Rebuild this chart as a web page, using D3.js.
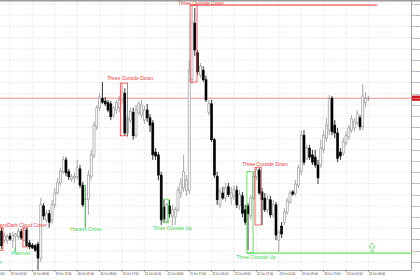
<!DOCTYPE html>
<html><head><meta charset="utf-8">
<script src="https://cdn.jsdelivr.net/npm/d3@7"></script>
<style>html,body{margin:0;padding:0;background:#fff;overflow:hidden}</style>
</head><body><svg id="c" width="420" height="280"></svg>
<script>
// ---- data (hourly candles) ----
const opens  = [1.0865,1.0849,1.0848,1.0856,1.0849,1.0856,1.0855,1.0864,1.0849,1.0867,1.0844,1.0840,1.0839,1.0842,1.0817,1.0910,1.0885,1.0896,1.0885,1.0912,1.0933,1.0951,1.0971,1.0992,1.0971,1.0958,1.0960,1.0962,1.0976,1.0947,1.0921,1.0922,1.0963,1.0999,1.1051,1.1085,1.1102,1.1097,1.1094,1.1092,1.1072,1.1081,1.1085,1.1099,1.1111,1.1040,1.1063,1.1077,1.1036,1.1077,1.1072,1.1063,1.1081,1.1067,1.1058,1.1006,1.1001,1.0965,1.0908,1.0883,1.0910,1.0892,1.0890,1.0903,1.0933,1.0942,1.0938,1.0938,1.1135,1.1236,1.1183,1.1143,1.1152,1.1135,1.1077,1.1092,1.1028,1.0963,1.0912,1.0933,1.0924,1.0944,1.0924,1.0928,1.0938,1.0910,1.0928,1.0903,1.0910,1.0892,1.0924,1.0962,1.0974,1.0935,1.0924,1.0903,1.0921,1.0894,1.0912,1.0849,1.0874,1.0881,1.0899,1.0917,1.0935,1.0933,1.0947,1.0971,1.1036,1.0995,1.1013,1.1001,1.0997,1.0983,1.0983,1.1010,1.1031,1.1045,1.1102,1.1054,1.1040,1.1006,1.1004,1.1022,1.1033,1.1045,1.1049,1.1058,1.1067,1.1051,1.1094,1.1101];
const highs  = [1.0871,1.0862,1.0860,1.0862,1.0864,1.0862,1.0871,1.0869,1.0871,1.0871,1.0849,1.0844,1.0842,1.0846,1.0924,1.0915,1.0903,1.0903,1.0921,1.0942,1.0960,1.0978,1.0999,1.0997,1.0976,1.0967,1.0969,1.0992,1.0983,1.0953,1.0938,1.0974,1.1010,1.1060,1.1090,1.1111,1.1131,1.1104,1.1099,1.1097,1.1088,1.1099,1.1106,1.1129,1.1120,1.1072,1.1085,1.1085,1.1090,1.1097,1.1099,1.1088,1.1092,1.1074,1.1063,1.1013,1.1006,1.0971,1.0921,1.0915,1.0921,1.0912,1.0908,1.0944,1.0960,1.1001,1.0965,1.1170,1.1268,1.1263,1.1188,1.1165,1.1159,1.1142,1.1099,1.1099,1.1031,1.0971,1.0942,1.0944,1.0951,1.0951,1.0944,1.0947,1.0946,1.0938,1.0935,1.0912,1.0915,1.0930,1.0971,1.0979,1.0978,1.0942,1.0933,1.0930,1.0928,1.0921,1.0917,1.0867,1.0881,1.0906,1.0924,1.0938,1.0938,1.0956,1.0983,1.1045,1.1045,1.1019,1.1019,1.1010,1.1010,1.0992,1.1028,1.1045,1.1067,1.1108,1.1106,1.1063,1.1049,1.1013,1.1031,1.1042,1.1054,1.1072,1.1067,1.1081,1.1072,1.1127,1.1113,1.1106];
const lows   = [1.0833,1.0844,1.0842,1.0848,1.0835,1.0830,1.0849,1.0849,1.0846,1.0837,1.0833,1.0833,1.0828,1.0796,1.0810,1.0885,1.0880,1.0871,1.0878,1.0906,1.0930,1.0946,1.0967,1.0963,1.0956,1.0953,1.0951,1.0956,1.0942,1.0908,1.0871,1.0894,1.0956,1.0995,1.1045,1.1079,1.1092,1.1088,1.1077,1.1063,1.1067,1.1074,1.1077,1.1092,1.1035,1.1033,1.1058,1.1028,1.1031,1.1072,1.1067,1.1056,1.1060,1.1042,1.0992,1.0992,1.0956,1.0876,1.0881,1.0880,1.0889,1.0874,1.0876,1.0899,1.0924,1.0935,1.0928,1.0931,1.1127,1.1177,1.1143,1.1138,1.1131,1.1095,1.1072,1.1024,1.0960,1.0912,1.0906,1.0921,1.0917,1.0926,1.0912,1.0921,1.0906,1.0903,1.0890,1.0876,1.0831,1.0885,1.0921,1.0956,1.0930,1.0876,1.0899,1.0897,1.0889,1.0889,1.0849,1.0828,1.0853,1.0876,1.0894,1.0913,1.0928,1.0928,1.0942,1.0965,1.0983,1.0992,1.0992,1.0983,1.0978,1.0949,1.0978,1.1004,1.1024,1.1036,1.1036,1.1031,1.0988,1.0992,1.0999,1.1017,1.1028,1.1040,1.1042,1.1053,1.1045,1.1045,1.1085,1.1097];
const closes = [1.0839,1.0856,1.0856,1.0851,1.0858,1.0860,1.0865,1.0853,1.0867,1.0839,1.0837,1.0835,1.0831,1.0817,1.0912,1.0892,1.0897,1.0881,1.0912,1.0933,1.0951,1.0972,1.0992,1.0969,1.0962,1.0962,1.0963,1.0978,1.0947,1.0912,1.0922,1.0965,1.1001,1.1053,1.1085,1.1104,1.1095,1.1092,1.1081,1.1069,1.1085,1.1094,1.1099,1.1113,1.1040,1.1067,1.1079,1.1035,1.1081,1.1092,1.1090,1.1081,1.1067,1.1054,1.1001,1.0999,1.0965,1.0885,1.0887,1.0912,1.0896,1.0903,1.0903,1.0938,1.0951,1.0971,1.0956,1.1152,1.1238,1.1188,1.1149,1.1159,1.1135,1.1099,1.1092,1.1028,1.0965,1.0921,1.0935,1.0924,1.0942,1.0930,1.0933,1.0940,1.0912,1.0930,1.0897,1.0881,1.0896,1.0924,1.0963,1.0974,1.0933,1.0921,1.0903,1.0921,1.0894,1.0912,1.0858,1.0862,1.0860,1.0899,1.0919,1.0933,1.0931,1.0949,1.0978,1.1036,1.0988,1.1013,1.0997,1.0988,1.0983,1.0960,1.1013,1.1036,1.1054,1.1102,1.1042,1.1040,1.0995,1.0999,1.1024,1.1035,1.1049,1.1065,1.1060,1.1074,1.1051,1.1106,1.1102,1.1102];

const timeTickIdx = [-5,3,11,19,27,35,43,51,59,67,75,83,91,99,107,115,123,131];
const timeLabels = ["18 Oct 17:00","19 Oct 01:00","19 Oct 09:00","19 Oct 17:00","20 Oct 01:00","20 Oct 09:00","20 Oct 17:00","21 Oct 01:00","21 Oct 09:00","21 Oct 17:00","22 Oct 01:00","22 Oct 09:00","22 Oct 17:00","23 Oct 01:00","23 Oct 09:00","23 Oct 17:00","24 Oct 01:00","24 Oct 09:00"];
const priceTicks = [1.1270,1.1250,1.1230,1.1210,1.1190,1.1170,1.1150,1.1130,1.1110,1.1090,1.1070,1.1050,1.1030,1.1010,1.0990,1.0970,1.0950,1.0930,1.0910,1.0890,1.0870,1.0850,1.0830,1.0810];
const currentPrice = 1.1102;

// candlestick patterns
const patNames  = ["Piercing Pattern","Harami","Hammer","Dark Cloud Cover","Harami Cross","Three Outside Down","Three Outside Up","Three Outside Down","Three Outside Up","Three Outside Down"];
const patBull   = [true,false,true,false,true,false,true,false,true,false];
const patStart  = [-9,-1.5,4.8,7.6,29.8,42.4,57.7,67.3,87.6,90.5];
const patEnd    = [-8,0.5,5.0,9.2,30.0,45.0,59.5,69.8,89.8,92.7];
const patTop    = [1.0860,1.0871,1.0835,1.0871,1.0947,1.1129,1.0922,1.1268,1.0971,1.0979];
const patBottom = [1.0820,1.0831,1.0828,1.0837,1.0872,1.1035,1.0880,1.1131,1.0826,1.0876];
const labIdx    = [-6.2,-0.8,6.9,9.1,30.1,45.9,60.9,71.2,90.9,94.1];
const labPrice  = [1.0807,1.0872,1.0822,1.0872,1.0865,1.1135,1.0867,1.1269,1.0815,1.0981];
// extension lines: [pattern, price, end index]
const extLines = [[7,1.1268,134.1],[8,1.0826,146.3]];
const arrowIdx = 132.3, arrowTop = 1.0844, arrowBottom = 1.0828;

// ---- drawing ----
const W = 420, H = 280;
const plotR = 411, plotB = 270, plotT = 1;
const svg = d3.select("#c");
const x = d3.scaleLinear().domain([0,131]).range([1.6,368.4]);
const y = d3.scaleLinear().domain([1.0810,1.1270]).range([262,4]);
const FONT = "'Liberation Sans', Arial, sans-serif";
const RED = "#f03c3c", GREEN = "#4cd44c";

svg.append("rect").attr("width",W).attr("height",H).attr("fill","#fff");

const g = svg.append("g");
// grid
g.selectAll(".hg").data(priceTicks).enter().append("line")
  .attr("x1",0).attr("x2",plotR).attr("y1",d=>y(d)).attr("y2",d=>y(d))
  .attr("stroke","#c8c8c8").attr("stroke-width",0.6).attr("stroke-dasharray","1,1.6");
g.selectAll(".vg").data(timeTickIdx).enter().append("line")
  .attr("x1",d=>x(d)).attr("x2",d=>x(d)).attr("y1",plotT).attr("y2",plotB)
  .attr("stroke","#c8c8c8").attr("stroke-width",0.6).attr("stroke-dasharray","1,1.6");

// current price line
g.append("line").attr("x1",0).attr("x2",plotR).attr("y1",y(currentPrice)).attr("y2",y(currentPrice))
  .attr("stroke","#ec8080").attr("stroke-width",0.9);

// extension lines
extLines.forEach(([p,pr,e])=>{
  g.append("line").attr("x1",x(patStart[p])).attr("x2",Math.min(x(e),plotR))
   .attr("y1",y(pr)).attr("y2",y(pr))
   .attr("stroke",patBull[p]?"#8ee88e":"#f48a8a").attr("stroke-width",1.8);
});

// candles
const candles = opens.map((o,i)=>({i,o,h:highs[i],l:lows[i],c:closes[i]}));
const cg = g.append("g");
cg.selectAll(".w").data(candles).enter().append("line")
  .attr("x1",d=>x(d.i)).attr("x2",d=>x(d.i)).attr("y1",d=>y(d.h)).attr("y2",d=>y(d.l))
  .attr("stroke",d=>d.c>=d.o?"#909090":"#000").attr("stroke-width",0.8);
cg.selectAll(".b").data(candles).enter().append("rect")
  .attr("x",d=>x(d.i)-1).attr("width",2)
  .attr("y",d=>y(Math.max(d.o,d.c)))
  .attr("height",d=>Math.max(0.6,Math.abs(y(d.o)-y(d.c))))
  .attr("fill",d=>d.c>=d.o?"#fff":"#000")
  .attr("stroke",d=>d.c>=d.o?"#8c8c8c":"#000").attr("stroke-width",0.6);

// pattern boxes and labels
patNames.forEach((n,k)=>{
  const col = patBull[k]?GREEN:RED;
  g.append("rect").attr("x",x(patStart[k])).attr("width",x(patEnd[k])-x(patStart[k]))
   .attr("y",y(patTop[k])).attr("height",y(patBottom[k])-y(patTop[k]))
   .attr("fill","none").attr("stroke",col).attr("stroke-width",0.8);
  g.append("text").attr("x",x(labIdx[k])).attr("y",y(labPrice[k]))
   .attr("text-anchor","middle").attr("font-family",FONT).attr("font-size",5)
   .attr("fill",col).text(n);
});

// arrow
{
  const ax = x(arrowIdx), t = y(arrowTop), b = y(arrowBottom);
  const m = t + (b-t)*0.45;
  g.append("path").attr("d",`M${ax},${t} L${ax+3},${m} L${ax+1.1},${m} L${ax+1.1},${b} L${ax-1.1},${b} L${ax-1.1},${m} L${ax-3},${m} Z`)
   .attr("fill","none").attr("stroke","#5cd65c").attr("stroke-width",0.7);
}

// frame
svg.append("line").attr("x1",0).attr("x2",W).attr("y1",0.8).attr("y2",0.8).attr("stroke","#9a9a9a").attr("stroke-width",1.6);
svg.append("line").attr("x1",plotR+0.5).attr("x2",plotR+0.5).attr("y1",0).attr("y2",plotB).attr("stroke","#8a8a8a").attr("stroke-width",0.8);
svg.append("line").attr("x1",0).attr("x2",plotR+0.5).attr("y1",plotB+0.5).attr("y2",plotB+0.5).attr("stroke","#8a8a8a").attr("stroke-width",0.8);

// y axis ticks/labels
svg.selectAll(".yt").data(priceTicks).enter().append("line")
  .attr("x1",plotR+0.5).attr("x2",plotR+1.6).attr("y1",d=>y(d)).attr("y2",d=>y(d))
  .attr("stroke","#555").attr("stroke-width",0.5);
svg.selectAll(".yl").data(priceTicks).enter().append("text")
  .attr("x",plotR+1.8).attr("y",d=>y(d)+0.9).attr("font-family",FONT).attr("font-size",2.35)
  .attr("fill","#333").text(d=>d.toFixed(4));
// current price label
svg.append("rect").attr("x",plotR+1).attr("y",y(currentPrice)-2.6).attr("width",W-plotR).attr("height",5.2).attr("fill","#d01818");
svg.append("text").attr("x",plotR+1.6).attr("y",y(currentPrice)+0.9).attr("font-family",FONT).attr("font-size",2.35)
  .attr("fill","#fff").text(currentPrice.toFixed(4));

// x axis ticks/labels
svg.selectAll(".xt").data(timeTickIdx).enter().append("line")
  .attr("x1",d=>x(d)).attr("x2",d=>x(d)).attr("y1",plotB+0.5).attr("y2",plotB+2)
  .attr("stroke","#555").attr("stroke-width",0.5);
svg.selectAll(".xl").data(timeTickIdx).enter().append("text")
  .attr("x",d=>x(d)+0.6).attr("y",plotB+5.3).attr("font-family",FONT).attr("font-size",2.8)
  .attr("fill","#333").text((d,i)=>timeLabels[i]);
</script></body></html>
